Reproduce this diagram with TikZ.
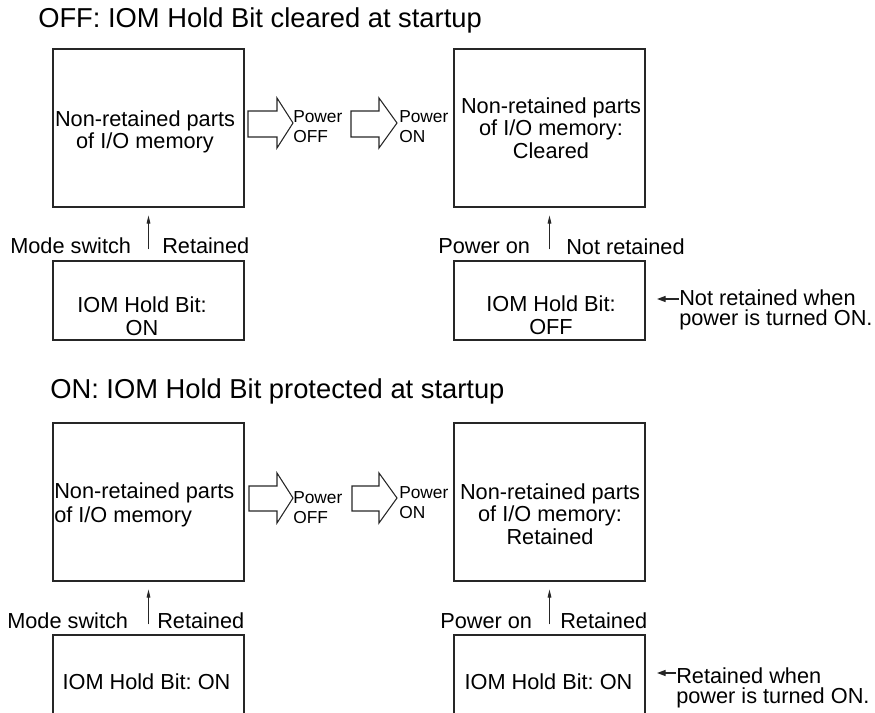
\documentclass[tikz,border=0pt]{standalone}
\usepackage{fontspec}
\setmainfont{Liberation Sans}
\frenchspacing
\usetikzlibrary{arrows.meta}

\begin{document}
\begin{tikzpicture}[x=0.75pt, y=-0.75pt,
  membox/.style={draw=black!85, line width=0.8pt, minimum width=143.25pt, minimum height=118.5pt, inner sep=0pt},
  bitbox/.style={draw=black!85, line width=0.8pt, minimum width=143.25pt, minimum height=59.25pt, inner sep=0pt},
  txt/.style={inner sep=0pt, font=\fontsize{16.3}{17}\selectfont},
  notetxt/.style={inner sep=0pt, anchor=west, align=left, font=\fontsize{16.3}{15}\selectfont},
  titletxt/.style={inner sep=0pt, anchor=base west, font=\fontsize{20.5}{24}\selectfont},
  smalltxt/.style={inner sep=0pt, anchor=west, align=left, font=\fontsize{13}{15}\selectfont},
  powerarrow/.style={draw=black!85, line width=0.8pt},
  uparrow/.style={draw=black!85, line width=0.6pt, -{Triangle[length=6pt, width=2.8pt]}},
  notearrow/.style={draw=black!85, line width=1pt, -{Triangle[length=6.5pt, width=4.5pt]}}]
\useasboundingbox (0,0) rectangle (875,713);
% --- OFF: IOM Hold Bit cleared at startup ---
\node[titletxt] (titleoff) at (38,28) {OFF: IOM Hold Bit cleared at startup};
\node[membox] (memoffa) at (148.5,128) {};
\node[txt, align=center] (memoffatxt) at (145,132) {Non-retained parts\\of I/O memory};
\draw[powerarrow, shift={(248,111)}] (0,0) -- (29,0) -- (29,-13) -- (45,12) -- (29,37) -- (29,26) -- (0,26) -- cycle;
\node[smalltxt] (offa) at (293,126.5) {Power\\OFF};
\draw[powerarrow, shift={(351,111)}] (0,0) -- (28,0) -- (28,-13) -- (46,12) -- (28,37) -- (28,26) -- (0,26) -- cycle;
\node[smalltxt] (ona) at (399,126.5) {Power\\ON};
\node[membox] (memoffb) at (549.5,128) {};
\node[txt, align=center] (memoffbtxt) at (551,128) {Non-retained parts\\of I/O memory:\\Cleared};
\node[bitbox] (bitoffa) at (148.5,300.5) {};
\node[txt, align=center] (bitoffatxt) at (142,316) {IOM Hold Bit:\\ON};
\node[bitbox] (bitoffb) at (549.5,300.5) {};
\node[txt, align=center] (bitoffbtxt) at (551,315) {IOM Hold Bit:\\OFF};
\draw[uparrow, shorten <=8.25pt, shorten >=6pt] (bitoffa.north) -- (memoffa.south);
\draw[uparrow, shorten <=8.25pt, shorten >=6pt] (bitoffb.north) -- (memoffb.south);
\node[txt, anchor=base west] (modeoff) at (10,253) {Mode switch};
\node[txt, anchor=base west] (keepoff) at (162,253) {Retained};
\node[txt, anchor=base west] (pwroff) at (438,253) {Power on};
\node[txt, anchor=base west] (losoff) at (566,254) {Not retained};
\node[notetxt] (noteoff) at (679,309.8) {Not retained when\\power is turned ON.};
\coordinate (tipoff) at (657,299);
\draw[notearrow] (noteoff.west |- tipoff) -- (tipoff);
% --- ON: IOM Hold Bit protected at startup ---
\node[titletxt] (titleon) at (50,398) {ON: IOM Hold Bit protected at startup};
\node[membox] (memona) at (148.5,502) {};
\node[txt, anchor=west, align=left, font=\fontsize{16.3}{18}\selectfont] (memonatxt) at (54,505) {Non-retained parts\\of I/O memory};
\draw[powerarrow, shift={(249,486)}] (0,0) -- (28,0) -- (28,-13) -- (44,12) -- (28,37) -- (28,25) -- (0,25) -- cycle;
\node[smalltxt] (offb) at (293,508) {Power\\OFF};
\draw[powerarrow, shift={(352,486)}] (0,0) -- (27,0) -- (27,-13) -- (45,12) -- (27,37) -- (27,25) -- (0,25) -- cycle;
\node[smalltxt] (onb) at (399,503) {Power\\ON};
\node[membox] (memonb) at (549.5,502) {};
\node[txt, align=center] (memonbtxt) at (550,514) {Non-retained parts\\of I/O memory:\\Retained};
\node[bitbox] (bitona) at (148.5,674.5) {};
\node[txt, anchor=base] (bitonatxt) at (146.5,689) {IOM Hold Bit: ON};
\node[bitbox] (bitonb) at (549.5,674.5) {};
\node[txt, anchor=base] (bitonbtxt) at (548.5,689) {IOM Hold Bit: ON};
\draw[uparrow, shorten <=7.5pt, shorten >=6pt] (bitona.north) -- (memona.south);
\draw[uparrow, shorten <=7.5pt, shorten >=6pt] (bitonb.north) -- (memonb.south);
\node[txt, anchor=base west] (modeon) at (7,628) {Mode switch};
\node[txt, anchor=base west] (keepon) at (157,628) {Retained};
\node[txt, anchor=base west] (pwron) at (440,628) {Power on};
\node[txt, anchor=base west] (keeponb) at (560,628) {Retained};
\node[notetxt] (noteon) at (676,687.5) {Retained when\\power is turned ON.};
\coordinate (tipon) at (657,673);
\draw[notearrow] (noteon.west |- tipon) -- (tipon);
\end{tikzpicture}
\end{document}
